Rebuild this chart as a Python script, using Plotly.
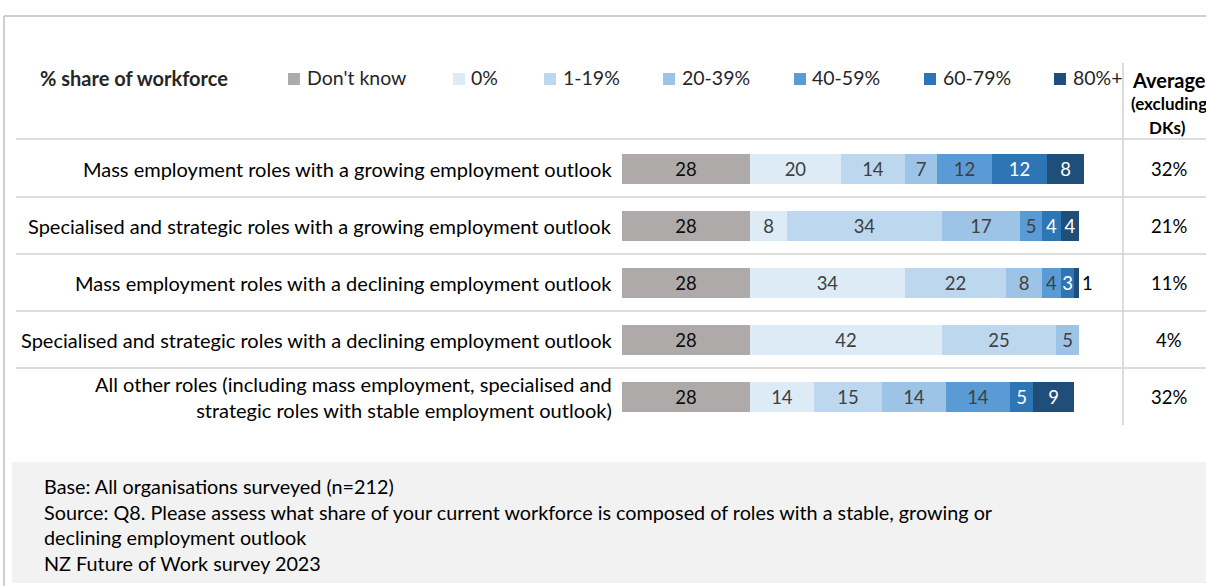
import plotly.graph_objects as go

# ---------------- data ----------------
categories = [
    "Mass employment roles with a growing employment outlook",
    "Specialised and strategic roles with a growing employment outlook",
    "Mass employment roles with a declining employment outlook",
    "Specialised and strategic roles with a declining employment outlook",
    "All other roles (including mass employment, specialised and<br>strategic roles with stable employment outlook)",
]
series_names = ["Don't know", "0%", "1-19%", "20-39%", "40-59%", "60-79%", "80%+"]
dont_know = [28, 28, 28, 28, 28]
pct_0 = [20, 8, 34, 42, 14]
pct_1_19 = [14, 34, 22, 25, 15]
pct_20_39 = [7, 17, 8, 5, 14]
pct_40_59 = [12, 5, 4, None, 14]
pct_60_79 = [12, 4, 3, None, 5]
pct_80_plus = [8, 4, 1, None, 9]
averages = ["32%", "21%", "11%", "4%", "32%"]

legend_title = "% share of workforce"
avg_header = ["Average", "(excluding", "DKs)"]
footer_lines = [
    "Base: All organisations surveyed (n=212)",
    "Source: Q8. Please assess what share of your current workforce is composed of roles with a stable, growing or",
    "declining employment outlook",
    "NZ Future of Work survey 2023",
]

# ---------------- styles ----------------
colors = ["#AEAAAA", "#DDEBF7", "#BDD7EE", "#9DC3E6", "#5B9BD5", "#2E75B6", "#1F4E79"]
text_colors = ["#0D0D0D", "#404040", "#404040", "#404040", "#404040", "#FFFFFF", "#FFFFFF"]
FONT = "Lato, Calibri, Carlito, sans-serif"
W, H = 1206, 586
X0_PX = 622.0       # pixel where value 0 sits
PX_PER = 4.57       # pixels per percentage point
ROW0_PX = 169.0     # centre of first row
ROW_STEP = 57.0     # px between rows
BAR_PX = 30.0

series = [dont_know, pct_0, pct_1_19, pct_20_39, pct_40_59, pct_60_79, pct_80_plus]
ypos = list(range(len(categories)))

fig = go.Figure()
for i, (name, vals) in enumerate(zip(series_names, series)):
    txt = [str(v) if v else "" for v in vals]
    if i == len(series) - 1:
        tpos = ["outside" if (v is not None and v <= 1) else "inside" for v in vals]
    else:
        tpos = "inside"
    fig.add_trace(go.Bar(
        name=name, orientation="h", x=vals, y=ypos,
        width=BAR_PX / ROW_STEP,
        marker=dict(color=colors[i], line=dict(width=0)),
        text=txt, textposition=tpos, textangle=0, constraintext="none",
        insidetextanchor="middle",
        insidetextfont=dict(family=FONT, size=18.5, color=text_colors[i]),
        outsidetextfont=dict(family=FONT, size=18.5, color="#000000"),
        cliponaxis=False, showlegend=False, hoverinfo="skip",
    ))

xr = [-X0_PX / PX_PER, (W - X0_PX) / PX_PER]
yr = [(H - ROW0_PX) / ROW_STEP, -ROW0_PX / ROW_STEP]

def px(x):
    return x / W

def py(y):
    return 1 - y / H

shapes = []
line_col = "#D0D0D0"
# frame
shapes.append(dict(type="line", xref="paper", yref="paper", x0=px(4), x1=px(W), y0=py(16), y1=py(16),
                   line=dict(color="#BFBFBF", width=1.5)))
shapes.append(dict(type="line", xref="paper", yref="paper", x0=px(4), x1=px(4), y0=py(16), y1=py(H),
                   line=dict(color="#BFBFBF", width=1.5)))
# header separator and row separators
for yy in [139, 197, 254, 311, 368]:
    shapes.append(dict(type="line", xref="paper", yref="paper", x0=px(16), x1=px(W), y0=py(yy), y1=py(yy),
                       line=dict(color=line_col, width=1.5)))
# vertical separator for averages column
shapes.append(dict(type="line", xref="paper", yref="paper", x0=px(1123), x1=px(1123), y0=py(63), y1=py(425),
                   line=dict(color=line_col, width=1.5)))
# footer box
shapes.append(dict(type="rect", xref="paper", yref="paper", x0=px(12), x1=px(W), y0=py(462), y1=py(583),
                   fillcolor="#F2F2F2", line=dict(width=0), layer="below"))

# legend squares
leg_sq_x = [288, 453, 544, 663, 794, 924, 1054]
leg_tx_x = [305, 469, 561, 680, 810, 941, 1071]
for c, sx in zip(colors, leg_sq_x):
    shapes.append(dict(type="rect", xref="paper", yref="paper", x0=px(sx), x1=px(sx + 12),
                       y0=py(85), y1=py(73), fillcolor=c, line=dict(width=0)))

annotations = []
annotations.append(dict(xref="paper", yref="paper", x=px(38), y=py(78), text="<b>" + legend_title + "</b>",
                        xanchor="left", yanchor="middle", showarrow=False,
                        font=dict(family=FONT, size=20, color="#262626")))
for name, tx in zip(series_names, leg_tx_x):
    annotations.append(dict(xref="paper", yref="paper", x=px(tx), y=py(78), text=name,
                            xanchor="left", yanchor="middle", showarrow=False,
                            font=dict(family=FONT, size=19.5, color="#262626")))
# average header
annotations.append(dict(xref="paper", yref="paper", x=px(1130), y=py(80), text="<b>" + avg_header[0] + "</b>",
                        xanchor="left", yanchor="middle", showarrow=False,
                        font=dict(family=FONT, size=20, color="#000000")))
annotations.append(dict(xref="paper", yref="paper", x=px(1129), y=py(104), text="<b>" + avg_header[1] + "</b>",
                        xanchor="left", yanchor="middle", showarrow=False,
                        font=dict(family=FONT, size=17, color="#000000")))
annotations.append(dict(xref="paper", yref="paper", x=px(1167), y=py(127), text="<b>" + avg_header[2] + "</b>",
                        xanchor="center", yanchor="middle", showarrow=False,
                        font=dict(family=FONT, size=17, color="#000000")))
# row labels and averages
for i, (cat, avg) in enumerate(zip(categories, averages)):
    annotations.append(dict(xref="paper", yref="y", x=px(614), y=i, text=cat, align="right",
                            xanchor="right", yanchor="middle", showarrow=False,
                            font=dict(family=FONT, size=20, color="#000000")))
    annotations.append(dict(xref="paper", yref="y", x=px(1169), y=i, text=avg,
                            xanchor="center", yanchor="middle", showarrow=False,
                            font=dict(family=FONT, size=18.5, color="#000000")))
# footer
for j, line in enumerate(footer_lines):
    annotations.append(dict(xref="paper", yref="paper", x=px(42), y=py(486 + 25.5 * j), text=line,
                            xanchor="left", yanchor="middle", showarrow=False,
                            font=dict(family=FONT, size=19.8, color="#000000")))

fig.update_layout(
    width=W, height=H, autosize=False,
    margin=dict(l=0, r=0, t=0, b=0, pad=0),
    paper_bgcolor="#FFFFFF", plot_bgcolor="#FFFFFF",
    barmode="stack", bargap=0,
    xaxis=dict(range=xr, domain=[0, 1], visible=False, fixedrange=True),
    yaxis=dict(range=yr, domain=[0, 1], visible=False, fixedrange=True),
    shapes=shapes, annotations=annotations,
    showlegend=False,
)

fig.write_html("out.html")
